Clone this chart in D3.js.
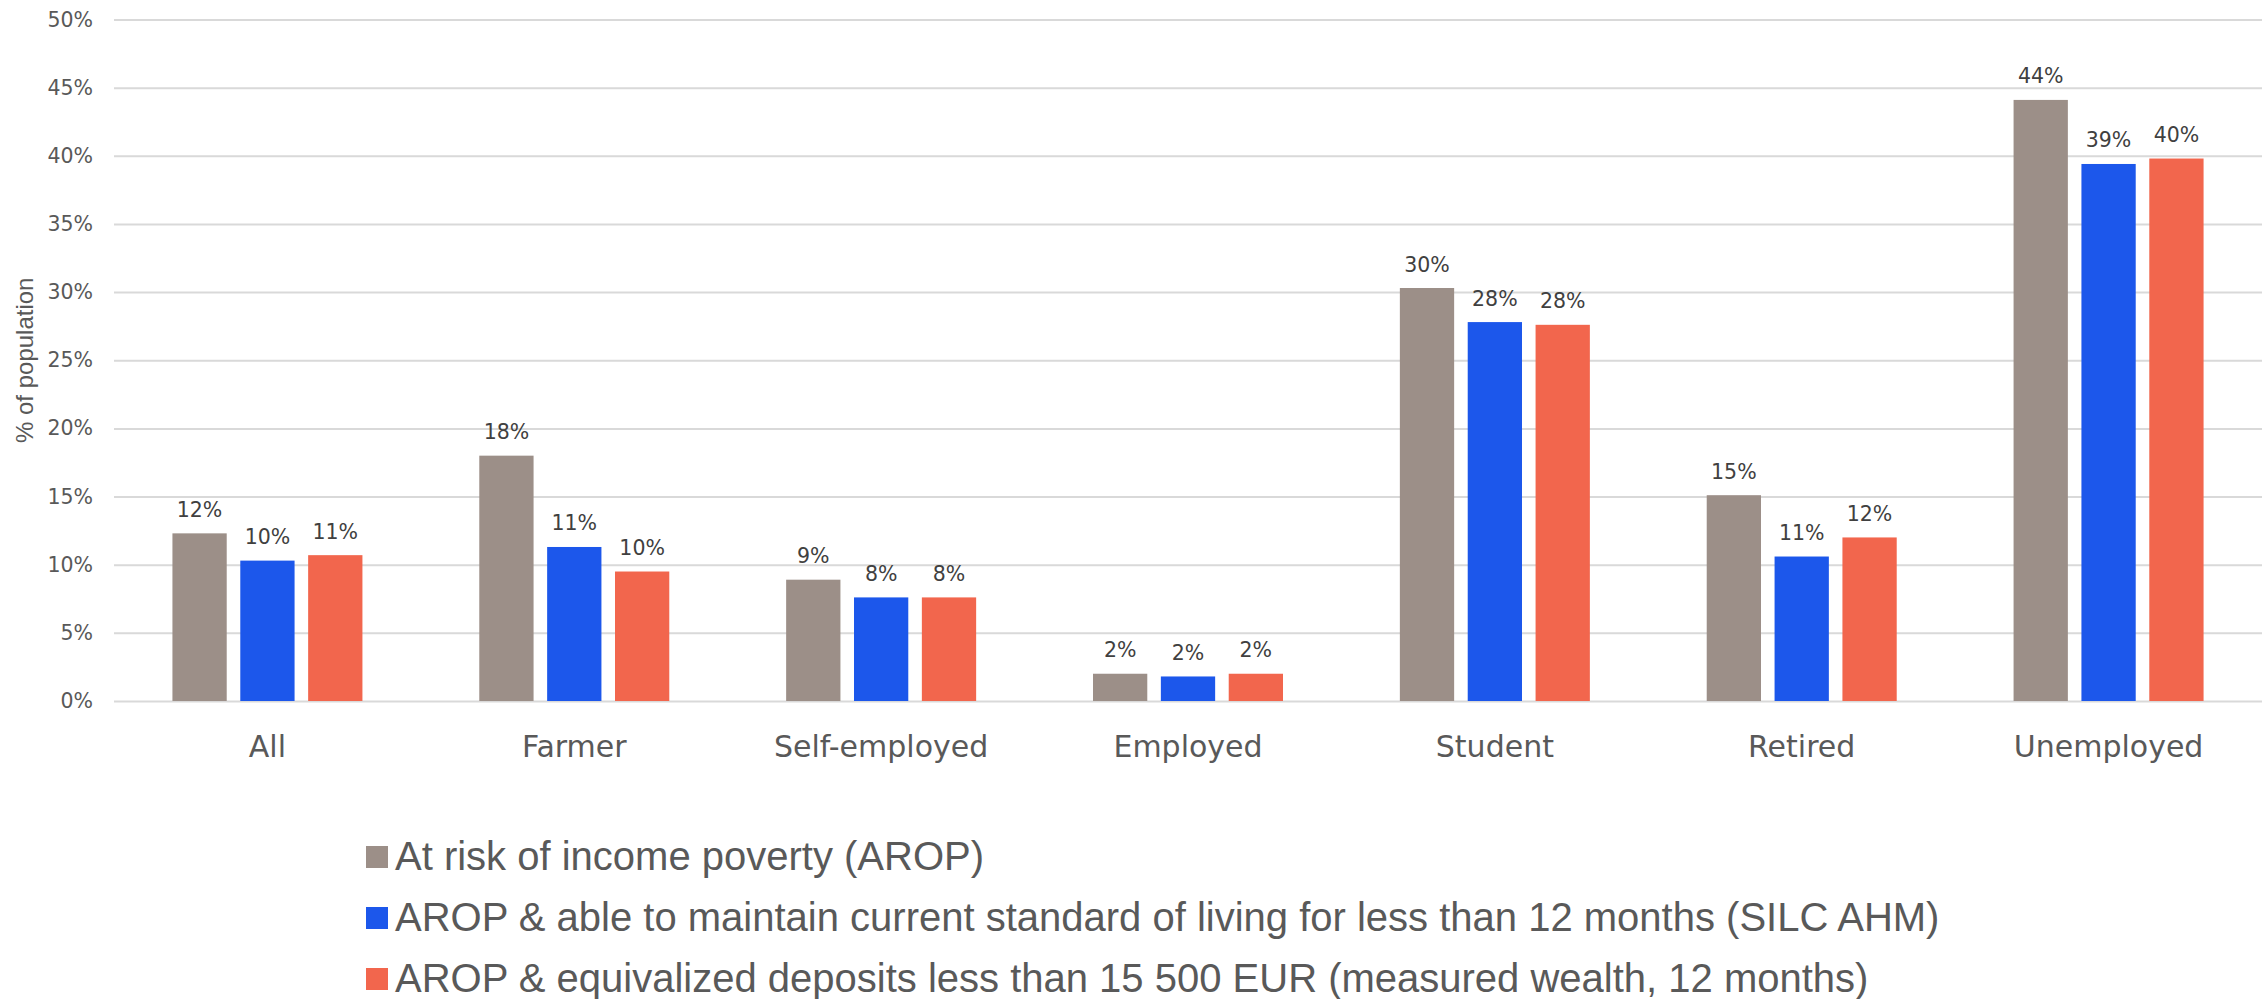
<!DOCTYPE html>
<html>
<head>
<meta charset="utf-8">
<script src="https://cdn.jsdelivr.net/npm/d3@7"></script>
<style>
  html, body { margin: 0; padding: 0; background: #ffffff; }
  svg { display: block; }
</style>
</head>
<body>
<svg id="chart" width="2262" height="999"></svg>
<script>
// ---- data ----
const categories = ["All", "Farmer", "Self-employed", "Employed", "Student", "Retired", "Unemployed"];
const seriesNames = [
  "At risk of income poverty (AROP)",
  "AROP & able to maintain current standard of living for less than 12 months (SILC AHM)",
  "AROP & equivalized deposits less than 15 500 EUR (measured wealth, 12 months)"
];
const arop      = [12.3, 18.0, 8.9, 2.0, 30.3, 15.1, 44.1];
const aropSilc  = [10.3, 11.3, 7.6, 1.8, 27.8, 10.6, 39.4];
const aropWealth= [10.7,  9.5, 7.6, 2.0, 27.6, 12.0, 39.8];
const yTicks = [0, 5, 10, 15, 20, 25, 30, 35, 40, 45, 50];
const yTitle = "% of population";
const colors = ["#9c8f88", "#1c57eb", "#f2664d"];

const seriesValues = [arop, aropSilc, aropWealth];

// ---- layout ----
const svg = d3.select("#chart");
const plotLeft = 114, plotRight = 2262, plotTop = 19.5, plotBottom = 701;
const groupW = 190;

const x0 = d3.scaleBand().domain(categories).range([plotLeft, plotRight]).padding(0);
const x1 = d3.scaleBand().domain(d3.range(seriesNames.length)).range([0, groupW]).paddingInner(0.2);
const y = d3.scaleLinear().domain([0, 50]).range([plotBottom, plotTop]);

// gridlines + y tick labels
const yAxis = d3.axisLeft(y)
  .tickValues(yTicks)
  .tickSize(-(plotRight - plotLeft))
  .tickPadding(21)
  .tickFormat(d => d + "%");

const gy = svg.append("g")
  .attr("transform", `translate(${plotLeft},0)`)
  .call(yAxis);
gy.select(".domain").remove();
gy.selectAll(".tick line").attr("stroke", "#d9d9d9").attr("stroke-width", 2);
gy.selectAll(".tick text")
  .attr("fill", "#595959")
  .style("font-family", "'DejaVu Sans', sans-serif")
  .style("font-size", "20.5px");

// y title
svg.append("text")
  .attr("transform", `translate(33, ${y(25)}) rotate(-90)`)
  .attr("text-anchor", "middle")
  .attr("fill", "#595959")
  .style("font-family", "'Liberation Sans', Arial, sans-serif")
  .style("font-size", "24px")
  .text(yTitle);

// bars
const groups = svg.append("g").selectAll("g")
  .data(categories)
  .join("g")
  .attr("transform", c => `translate(${x0(c) + (x0.bandwidth() - groupW) / 2},0)`);

groups.selectAll("rect")
  .data((c, i) => seriesValues.map((vals, s) => ({ s, v: vals[i] })))
  .join("rect")
  .attr("x", d => x1(d.s))
  .attr("width", x1.bandwidth())
  .attr("y", d => y(d.v))
  .attr("height", d => y(0) - y(d.v))
  .attr("fill", d => colors[d.s]);

groups.selectAll("text.val")
  .data((c, i) => seriesValues.map((vals, s) => ({ s, v: vals[i] })))
  .join("text")
  .attr("class", "val")
  .attr("x", d => x1(d.s) + x1.bandwidth() / 2)
  .attr("y", d => y(d.v) - 16.5)
  .attr("text-anchor", "middle")
  .attr("fill", "#404040")
  .style("font-family", "'DejaVu Sans', sans-serif")
  .style("font-size", "20.5px")
  .text(d => Math.round(d.v) + "%");

// category axis
const xAxis = d3.axisBottom(x0).tickSize(0).tickPadding(0);
const gx = svg.append("g")
  .attr("transform", `translate(0,${plotBottom})`)
  .call(xAxis);
gx.select(".domain").remove();
gx.selectAll(".tick text")
  .attr("y", 56)
  .attr("dy", 0)
  .attr("fill", "#595959")
  .style("font-family", "'DejaVu Sans', sans-serif")
  .style("font-size", "30px");

// legend
const legend = svg.append("g").attr("transform", "translate(366,870)");
const items = legend.selectAll("g")
  .data(seriesNames)
  .join("g")
  .attr("transform", (d, i) => `translate(0,${i * 61})`);
items.append("rect")
  .attr("x", 0).attr("y", -24)
  .attr("width", 22).attr("height", 22)
  .attr("fill", (d, i) => colors[i]);
items.append("text")
  .attr("x", 29).attr("y", 0)
  .attr("fill", "#595959")
  .style("font-family", "'Liberation Sans', Arial, sans-serif")
  .style("font-size", "40px")
  .text(d => d);
</script>
</body>
</html>
